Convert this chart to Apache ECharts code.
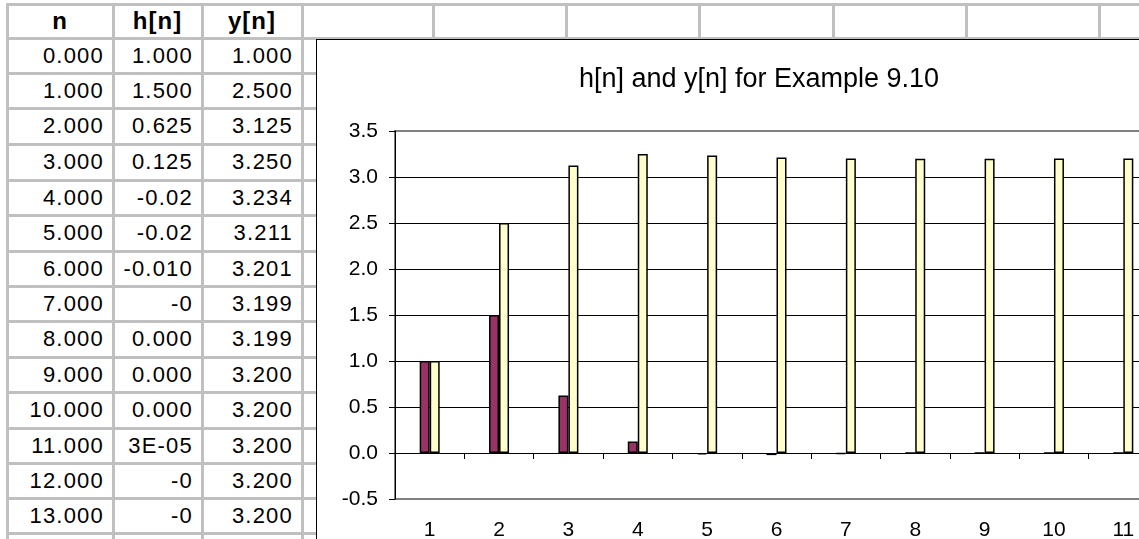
<!DOCTYPE html>
<html>
<head>
<meta charset="utf-8">
<script src="https://cdn.jsdelivr.net/npm/echarts@6.0.0/dist/echarts.min.js"></script>
<style>
html,body{margin:0;padding:0;background:#fff;overflow:hidden;width:1139px;height:539px;}
#sheet{position:absolute;left:0;top:0;width:1139px;height:539px;font-family:Arial,"Liberation Sans",sans-serif;}
.vl{position:absolute;background:#c0c0c0;width:3px;}
.hl{position:absolute;background:#c0c0c0;height:3px;}
.cell{position:absolute;font-size:22px;letter-spacing:1.2px;color:#000;white-space:nowrap;display:flex;align-items:center;}
.head{font-size:24px;font-weight:bold;letter-spacing:1px;}
#chart{position:absolute;left:316px;top:39px;width:884px;height:520px;border-left:1px solid #000;border-top:1px solid #000;background:#fff;}
</style>
</head>
<body>
<div id="sheet"></div>
<div id="chart"></div>
<script>
// spreadsheet columns
var headers = ['n', 'h[n]', 'y[n]'];
var nText = ['0.000','1.000','2.000','3.000','4.000','5.000','6.000','7.000','8.000','9.000','10.000','11.000','12.000','13.000'];
var hText = ['1.000','1.500','0.625','0.125','-0.02','-0.02','-0.010','-0','0.000','0.000','0.000','3E-05','-0','-0'];
var yText = ['1.000','2.500','3.125','3.250','3.234','3.211','3.201','3.199','3.199','3.200','3.200','3.200','3.200','3.200'];

// chart data
var categories = ['1','2','3','4','5','6','7','8','9','10','11'];
var hValues = [1.000, 1.500, 0.625, 0.125, -0.016, -0.023, -0.010, -0.002, 0.0004, 0.0003, 0.0001];
var yValues = [1.000, 2.500, 3.125, 3.250, 3.234, 3.211, 3.201, 3.199, 3.199, 3.200, 3.200];
var yTicks = {min: -0.5, max: 3.5, step: 0.5};

// sheet grid
var colEdges = [7, 113, 202, 302, 433, 566, 699, 833, 966, 1099];
var rowEdges = [4, 38, 73, 108, 144, 180, 215, 251, 286, 321, 357, 392, 428, 463, 498, 533];

function buildSheet(){
	var sheet = document.getElementById('sheet');
	var html = '';
	for(var i=0;i<colEdges.length;i++){
		html += '<div class="vl" style="left:'+(colEdges[i]-1)+'px;top:'+(rowEdges[0]-1)+'px;height:560px"></div>';
	}
	for(var j=0;j<rowEdges.length;j++){
		html += '<div class="hl" style="left:'+(colEdges[0]-1)+'px;top:'+(rowEdges[j]-1)+'px;width:1200px"></div>';
	}
	// header
	for(var c=0;c<headers.length;c++){
		html += '<div class="cell head" style="left:'+colEdges[c]+'px;width:'+(colEdges[c+1]-colEdges[c])+'px;top:'+rowEdges[0]+'px;height:'+(rowEdges[1]-rowEdges[0])+'px;justify-content:center">'+headers[c]+'</div>';
	}
	var cols = [nText, hText, yText];
	for(var r=0;r<nText.length;r++){
		var top = rowEdges[r+1], h = rowEdges[r+2]-rowEdges[r+1];
		for(var k=0;k<cols.length;k++){
			html += '<div class="cell" style="left:'+colEdges[k]+'px;width:'+(colEdges[k+1]-colEdges[k]-9)+'px;top:'+top+'px;height:'+h+'px;justify-content:flex-end">'+cols[k][r]+'</div>';
		}
	}
	sheet.innerHTML = html;
}
buildSheet();

var splitColors = [];
for(var v=yTicks.min; v<=yTicks.max+1e-9; v+=yTicks.step){
	splitColors.push((v==yTicks.min || Math.abs(v-yTicks.max)<1e-9) ? '#808080' : '#000');
}

var plotH = 368;
// distance (px) from plot bottom up to the zero line
var zeroOffset = plotH * (0 - yTicks.min) / (yTicks.max - yTicks.min);

var option = {
	animation: false,
	title: {
		text: 'h[n] and y[n] for Example 9.10',
		left: 'center',
		top: 21,
		textStyle: {fontFamily: 'Arial', fontSize: 27, fontWeight: 'normal', color: '#000'}
	},
	grid: {
		left: 78,
		top: 91,
		width: 763,
		height: plotH,
		outerBoundsMode: 'none',
		containLabel: false,
		show: true,
		borderColor: '#808080',
		borderWidth: 2
	},
	xAxis: [{
		// labels along the bottom of the plot area
		type: 'category',
		data: categories,
		position: 'bottom',
		axisLine: {show: false, onZero: false},
		axisTick: {show: false},
		axisLabel: {show: true, interval: 0, margin: 21, fontSize: 21, fontFamily: 'Arial', color: '#000'}
	},{
		// the category axis line with its ticks, drawn at y = 0
		type: 'category',
		data: categories,
		position: 'bottom',
		offset: -zeroOffset,
		axisLine: {show: true, onZero: false, lineStyle: {color: '#000', width: 1}},
		axisTick: {show: true, length: 6, lineStyle: {color: '#000'}},
		axisLabel: {show: false}
	}],
	yAxis: {
		type: 'value',
		min: yTicks.min,
		max: yTicks.max,
		interval: yTicks.step,
		axisLine: {show: true, lineStyle: {color: '#000', width: 1}},
		axisTick: {show: true, length: 6, lineStyle: {color: '#000'}},
		axisLabel: {margin: 17, fontSize: 21, fontFamily: 'Arial', color: '#000',
			formatter: function(v){ return v.toFixed(1); }},
		splitLine: {lineStyle: {color: splitColors, width: 1}}
	},
	series: [{
		name: 'h[n]',
		type: 'bar',
		xAxisIndex: 0,
		barWidth: 10,
		barGap: '0%',
		data: hValues,
		itemStyle: {color: '#993366', borderColor: '#000', borderWidth: 1.5}
	},
	{
		name: 'y[n]',
		type: 'bar',
		xAxisIndex: 0,
		barWidth: 10,
		barGap: '0%',
		data: yValues,
		itemStyle: {color: '#FFFFCC', borderColor: '#000', borderWidth: 1.5}
	}]
};

var myChart = echarts.init(document.getElementById('chart'));
myChart.setOption(option);
</script>
</body>
</html>
